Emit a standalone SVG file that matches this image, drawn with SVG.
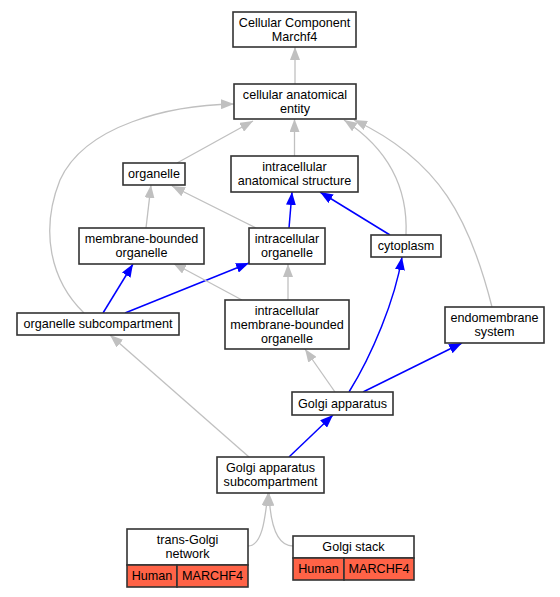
<svg xmlns="http://www.w3.org/2000/svg" width="560" height="597" viewBox="0 0 560 597">
<defs>
<marker id="ag" viewBox="0 0 13 10" refX="13" refY="5" markerWidth="13" markerHeight="10" markerUnits="userSpaceOnUse" orient="auto"><path d="M0,0 L13,5 L0,10 z" fill="#c0c0c0"/></marker>
<marker id="ab" viewBox="0 0 13 10" refX="13" refY="5" markerWidth="13" markerHeight="10" markerUnits="userSpaceOnUse" orient="auto"><path d="M0,0 L13,5 L0,10 z" fill="#0000ff"/></marker>
</defs>
<style>
.n rect{fill:#fff;stroke:#333;stroke-width:1.6}
.n rect.h{fill:#ff6347}
text{font-family:"Liberation Sans",Arial,sans-serif;font-size:12.6px;fill:#000;text-anchor:middle}
.g{fill:none;stroke:#c0c0c0;stroke-width:1.3;marker-end:url(#ag)}
.b{fill:none;stroke:#0000ff;stroke-width:1.5;marker-end:url(#ab)}
</style>
<rect width="560" height="597" fill="#fff"/>
<g id="edges">
<path class="g" d="M295,84 L295,47"/>
<path class="g" d="M177,163 L253,121"/>
<path class="g" d="M294.5,156 L294.5,119"/>
<path class="g" d="M406,235 C408,190 390,150 344,120"/>
<path class="g" d="M492,307 C470,220 440,160 354,120"/>
<path class="g" d="M84,313 C50,280 40,230 60,180 C85,125 170,105 234,104"/>
<path class="g" d="M146,228 L151,185"/>
<path class="g" d="M256,228 L172,186"/>
<path class="b" d="M289,228 L292,192"/>
<path class="b" d="M390,235 L320,192"/>
<path class="b" d="M103,313 L133,264"/>
<path class="b" d="M125,313 L249,263"/>
<path class="g" d="M242,300 L173,263"/>
<path class="g" d="M288,300 L288,264"/>
<path class="g" d="M335,392 L305,349"/>
<path class="b" d="M349,392 C372,355 395,300 402,257"/>
<path class="b" d="M363,392 L462,343"/>
<path class="b" d="M289,457 L333,415"/>
<path class="g" d="M249,457 L110,335"/>
<path class="g" d="M248,546 C262,546 265,520 268,493"/>
<path class="g" d="M293,546 C275,546 270,520 269,493"/>
</g>
<g id="n1" class="n"><rect x="233" y="12" width="123" height="35"/><text x="294.5" y="26.8">Cellular Component</text><text x="294.5" y="40.8">Marchf4</text></g>
<g id="n2" class="n"><rect x="234" y="84" width="122" height="35"/><text x="295" y="98.8">cellular anatomical</text><text x="295" y="112.8">entity</text></g>
<g id="n3" class="n"><rect x="123" y="163" width="62" height="22"/><text x="154" y="178.4">organelle</text></g>
<g id="n4" class="n"><rect x="231" y="156" width="127" height="36"/><text x="294.5" y="171.3">intracellular</text><text x="294.5" y="185.3">anatomical structure</text></g>
<g id="n5" class="n"><rect x="79" y="228" width="125" height="36"/><text x="141.5" y="243.3">membrane-bounded</text><text x="141.5" y="257.3">organelle</text></g>
<g id="n6" class="n"><rect x="249" y="228" width="76" height="36"/><text x="287" y="243.3">intracellular</text><text x="287" y="257.3">organelle</text></g>
<g id="n7" class="n"><rect x="371" y="235" width="70" height="22"/><text x="406" y="250.4">cytoplasm</text></g>
<g id="n8" class="n"><rect x="17" y="313" width="162" height="22"/><text x="98" y="328.4">organelle subcompartment</text></g>
<g id="n9" class="n"><rect x="225" y="300" width="124" height="49"/><text x="287" y="314.8">intracellular</text><text x="287" y="328.8">membrane-bounded</text><text x="287" y="342.8">organelle</text></g>
<g id="n10" class="n"><rect x="445" y="307" width="99" height="36"/><text x="494.5" y="322.3">endomembrane</text><text x="494.5" y="336.3">system</text></g>
<g id="n11" class="n"><rect x="292" y="392" width="101" height="23"/><text x="342.5" y="407.9">Golgi apparatus</text></g>
<g id="n12" class="n"><rect x="217" y="457" width="107" height="36"/><text x="270.5" y="472.3">Golgi apparatus</text><text x="270.5" y="486.3">subcompartment</text></g>
<g id="n13" class="n"><rect x="127" y="529" width="121" height="36"/><rect class="h" x="127" y="565" width="50" height="22"/><rect class="h" x="177" y="565" width="71" height="22"/><text x="187.5" y="544.3">trans-Golgi</text><text x="187.5" y="558.3">network</text><text x="152" y="580.4">Human</text><text x="212.5" y="580.4">MARCHF4</text></g>
<g id="n14" class="n"><rect x="293" y="536" width="121" height="22"/><rect class="h" x="293" y="558" width="51" height="22"/><rect class="h" x="344" y="558" width="70" height="22"/><text x="353.5" y="551.4">Golgi stack</text><text x="318.5" y="573.4">Human</text><text x="379" y="573.4">MARCHF4</text></g>
</svg>
